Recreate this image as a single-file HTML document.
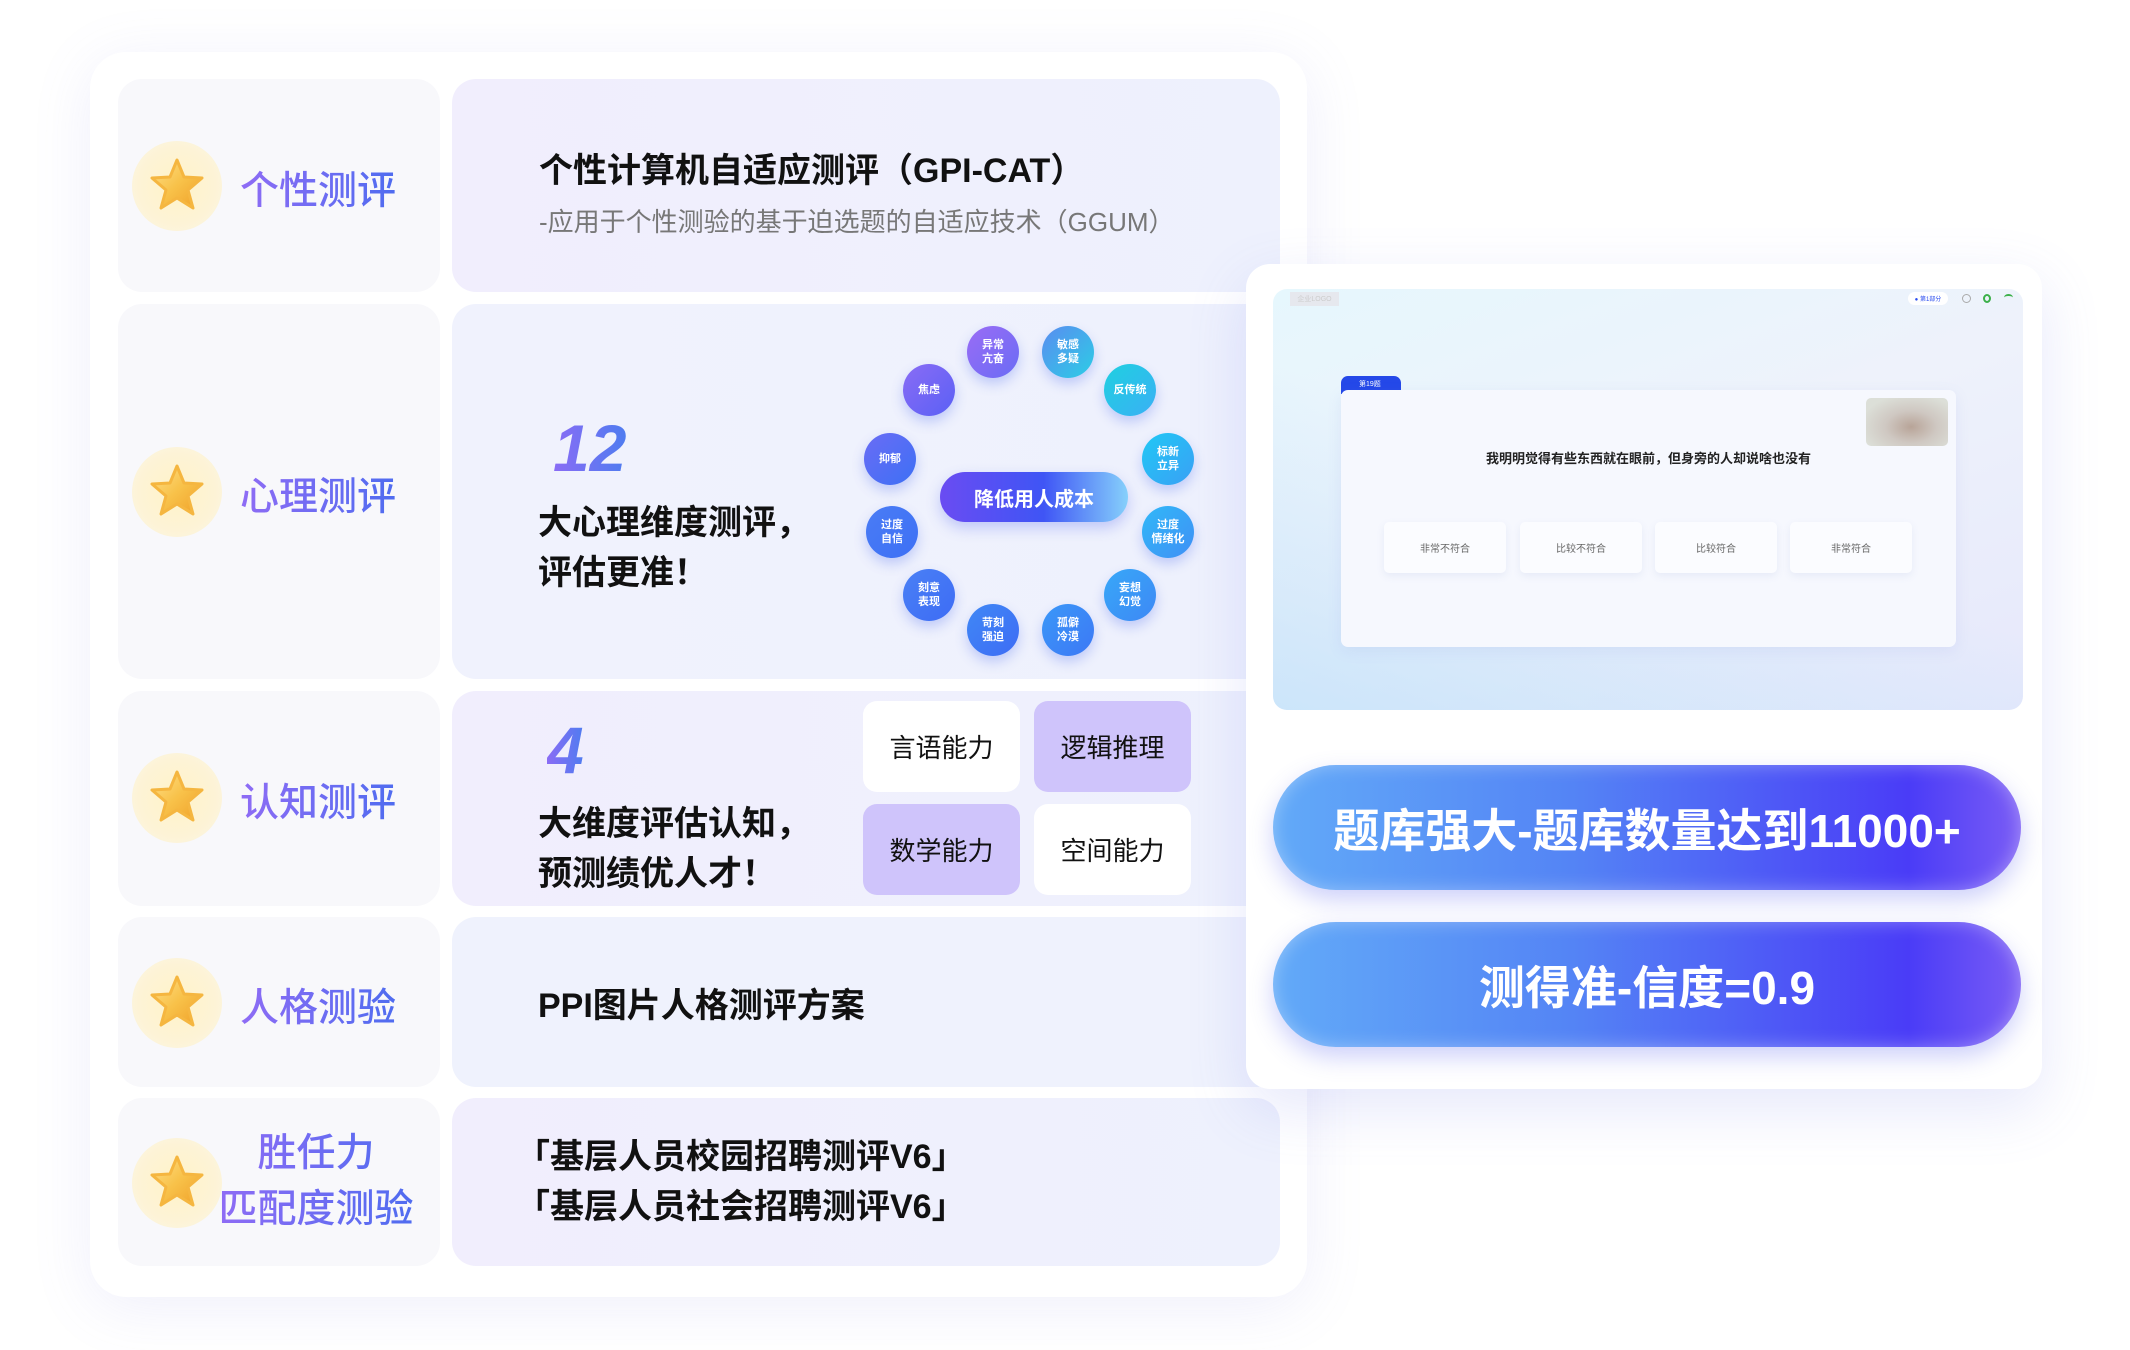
<!DOCTYPE html>
<html><head><meta charset="utf-8"><style>
*{margin:0;padding:0;box-sizing:border-box}
body{width:2130px;height:1350px;background:#fff;position:relative;overflow:hidden;font-family:"Liberation Sans","Noto Sans CJK SC",sans-serif}
.abs{position:absolute}
.card{left:90px;top:52px;width:1217px;height:1245px;background:#fff;border-radius:36px;box-shadow:0 10px 60px rgba(120,120,220,.12)}
.lc{left:118px;width:322px;background:#f8f8fb;border-radius:24px}
.rc{left:452px;width:828px;border-radius:24px;background:linear-gradient(90deg,#f1eefd,#eef1fd)}
.star{width:90px;height:90px;border-radius:50%;background:radial-gradient(circle,#fff3c8 0%,#fdf3d6 60%,#fbf6e8 100%);left:132px}
.lab{font-size:39px;font-weight:500;background:linear-gradient(90deg,#8f6cf5,#4f6cf0);-webkit-background-clip:text;background-clip:text;color:transparent;white-space:nowrap}
.bt{font-size:34px;font-weight:700;color:#111;white-space:nowrap}
.num{font-size:66px;font-weight:700;font-style:italic;color:#6a5cf0;background:linear-gradient(90deg,#8a6cf5,#4f7cf0);-webkit-background-clip:text;background-clip:text;color:transparent}
.c{width:52px;height:52px;border-radius:50%;color:#fff;font-size:11px;font-weight:700;display:flex;align-items:center;justify-content:center;text-align:center;line-height:14px;box-shadow:0 6px 12px rgba(80,110,240,.3)}
.box{width:157px;height:91px;border-radius:14px;display:flex;align-items:center;justify-content:center;font-size:26px;color:#111}
.btn{left:1273px;width:748px;height:125px;border-radius:63px;background:linear-gradient(90deg,#62aaf8 0%,#5484f5 40%,#4a3cf7 85%,#7a5cf5 100%);color:#fff;font-size:46px;font-weight:700;display:flex;align-items:center;justify-content:center;box-shadow:0 10px 24px rgba(90,100,240,.3),inset 0 0 18px rgba(255,255,255,.35)}
.opt{top:522px;width:122px;height:51px;background:#fbfcff;border-radius:5px;box-shadow:0 3px 8px rgba(120,140,200,.12);font-size:10px;color:#666;display:flex;align-items:center;justify-content:center}
</style></head><body>
<div class="abs card"></div>

<div class="abs lc" style="top:79px;height:213px"></div>
<div class="abs lc" style="top:304px;height:375px"></div>
<div class="abs lc" style="top:691px;height:215px"></div>
<div class="abs lc" style="top:917px;height:170px"></div>
<div class="abs lc" style="top:1098px;height:168px"></div>
<div class="abs rc" style="top:79px;height:213px"></div>
<div class="abs rc" style="top:304px;height:375px;background:linear-gradient(90deg,#f0f2fd,#eef1fd)"></div>
<div class="abs rc" style="top:691px;height:215px"></div>
<div class="abs rc" style="top:917px;height:170px;background:#eff2fd"></div>
<div class="abs rc" style="top:1098px;height:168px"></div>

<svg width="0" height="0" style="position:absolute"><defs><linearGradient id="sg" x1="0" y1="0" x2="1" y2="1"><stop offset="0" stop-color="#ffe08a"/><stop offset=".5" stop-color="#f8c24a"/><stop offset="1" stop-color="#f0a028"/></linearGradient></defs></svg>
<div class="abs star" style="top:141px"><svg width="90" height="90" viewBox="0 0 90 90"><path d="M45 19 L52 36 L70 37 L56 49 L61 67 L45 57 L29 67 L34 49 L20 37 L38 36 Z" fill="url(#sg)" stroke="#f5b640" stroke-width="3" stroke-linejoin="round"/></svg></div>
<div class="abs star" style="top:447px"><svg width="90" height="90" viewBox="0 0 90 90"><path d="M45 19 L52 36 L70 37 L56 49 L61 67 L45 57 L29 67 L34 49 L20 37 L38 36 Z" fill="url(#sg)" stroke="#f5b640" stroke-width="3" stroke-linejoin="round"/></svg></div>
<div class="abs star" style="top:753px"><svg width="90" height="90" viewBox="0 0 90 90"><path d="M45 19 L52 36 L70 37 L56 49 L61 67 L45 57 L29 67 L34 49 L20 37 L38 36 Z" fill="url(#sg)" stroke="#f5b640" stroke-width="3" stroke-linejoin="round"/></svg></div>
<div class="abs star" style="top:958px"><svg width="90" height="90" viewBox="0 0 90 90"><path d="M45 19 L52 36 L70 37 L56 49 L61 67 L45 57 L29 67 L34 49 L20 37 L38 36 Z" fill="url(#sg)" stroke="#f5b640" stroke-width="3" stroke-linejoin="round"/></svg></div>
<div class="abs star" style="top:1138px"><svg width="90" height="90" viewBox="0 0 90 90"><path d="M45 19 L52 36 L70 37 L56 49 L61 67 L45 57 L29 67 L34 49 L20 37 L38 36 Z" fill="url(#sg)" stroke="#f5b640" stroke-width="3" stroke-linejoin="round"/></svg></div>

<div class="abs lab" style="left:240px;top:160px">个性测评</div>
<div class="abs lab" style="left:240px;top:466px">心理测评</div>
<div class="abs lab" style="left:240px;top:772px">认知测评</div>
<div class="abs lab" style="left:240px;top:977px">人格测验</div>
<div class="abs lab" style="left:218px;top:1126px;width:196px;text-align:center;line-height:56px">胜任力<br>匹配度测验</div>

<div class="abs bt" style="left:539px;top:143px">个性计算机自适应测评（GPI-CAT）</div>
<div class="abs" style="left:539px;top:202px;font-size:26px;color:#777;white-space:nowrap">-应用于个性测验的基于迫选题的自适应技术（GGUM）</div>

<div class="abs num" style="left:553px;top:410px">12</div>
<div class="abs bt" style="left:538px;top:498px;line-height:50px">大心理维度测评，<br>评估更准！</div>
<div class="abs" style="left:940px;top:472px;width:188px;height:50px;border-radius:25px;background:linear-gradient(90deg,#6a4cf2,#3f55f5 55%,#86d0fb);color:#fff;font-size:20px;font-weight:700;display:flex;align-items:center;justify-content:center;box-shadow:0 6px 14px rgba(80,100,240,.3)">降低用人成本</div>
<div class="abs c" style="left:967px;top:326px;background:linear-gradient(135deg,#9a6cf5,#6a6cf5)">异常<br>亢奋</div>
<div class="abs c" style="left:1042px;top:326px;background:linear-gradient(135deg,#5a8cf0,#2ccde6)">敏感<br>多疑</div>
<div class="abs c" style="left:1104px;top:364px;background:linear-gradient(135deg,#1fd0e0,#3ab0f5)">反传统</div>
<div class="abs c" style="left:1142px;top:433px;background:linear-gradient(135deg,#20c8f5,#3aa0f5)">标新<br>立异</div>
<div class="abs c" style="left:1142px;top:506px;background:linear-gradient(135deg,#30b8f8,#4090f5)">过度<br>情绪化</div>
<div class="abs c" style="left:1104px;top:569px;background:linear-gradient(135deg,#38a8f8,#3d88f5)">妄想<br>幻觉</div>
<div class="abs c" style="left:1042px;top:604px;background:linear-gradient(135deg,#3a98f8,#3d78f5)">孤僻<br>冷漠</div>
<div class="abs c" style="left:967px;top:604px;background:linear-gradient(135deg,#4088f5,#3d6cf5)">苛刻<br>强迫</div>
<div class="abs c" style="left:903px;top:569px;background:linear-gradient(135deg,#4a80f5,#3d6cf5)">刻意<br>表现</div>
<div class="abs c" style="left:866px;top:506px;background:linear-gradient(135deg,#4a7cf5,#3d70f5)">过度<br>自信</div>
<div class="abs c" style="left:864px;top:433px;background:linear-gradient(135deg,#6a6cf5,#3d70f5)">抑郁</div>
<div class="abs c" style="left:903px;top:364px;background:linear-gradient(135deg,#8a6cf5,#5a60f5)">焦虑</div>

<div class="abs num" style="left:547px;top:712px">4</div>
<div class="abs bt" style="left:538px;top:799px;line-height:50px">大维度评估认知，<br>预测绩优人才！</div>
<div class="abs box" style="left:863px;top:701px;background:#fff">言语能力</div>
<div class="abs box" style="left:1034px;top:701px;background:#cfc4fb">逻辑推理</div>
<div class="abs box" style="left:863px;top:804px;background:#cfc4fb">数学能力</div>
<div class="abs box" style="left:1034px;top:804px;background:#fff">空间能力</div>

<div class="abs bt" style="left:538px;top:978px">PPI图片人格测评方案</div>
<div class="abs bt" style="left:516px;top:1132px;line-height:50px">「基层人员校园招聘测评V6」<br>「基层人员社会招聘测评V6」</div>

<div class="abs" style="left:1246px;top:264px;width:796px;height:825px;background:#fff;border-radius:24px;box-shadow:0 20px 60px rgba(100,110,230,.16)"></div>
<div class="abs" style="left:1273px;top:289px;width:750px;height:421px;border-radius:14px;background:linear-gradient(160deg,#e6f7fd 0%,#eef2fb 45%,#e6e8fb 100%)"></div>
<div class="abs" style="left:1273px;top:289px;width:750px;height:421px;border-radius:14px;background:linear-gradient(20deg,rgba(190,225,250,.7) 0%,rgba(255,255,255,0) 50%)"></div>
<div class="abs" style="left:1290px;top:292px;width:49px;height:14px;background:#e6e8ee;color:#ccc;font-size:7px;display:flex;align-items:center;justify-content:center">企业LOGO</div>
<div class="abs" style="left:1908px;top:292px;width:40px;height:13px;border-radius:7px;background:#fff;color:#2a4cf0;font-size:6px;display:flex;align-items:center;justify-content:center">● 第1部分</div>
<div class="abs" style="left:1962px;top:294px;width:9px;height:9px;border:1px solid #aaa;border-radius:50%"></div>
<div class="abs" style="left:1983px;top:294px;width:8px;height:9px;border:2px solid #3cb04a;border-radius:50%"></div>
<div class="abs" style="left:2004px;top:294px;width:9px;height:7px;border-top:2px solid #3cb04a;border-radius:50% 50% 0 0"></div>
<div class="abs" style="left:1341px;top:376px;width:60px;height:18px;border-radius:7px 7px 0 0;background:#2448e8;color:#fff;font-size:7px;padding:3px 0 0 18px">第19题</div>
<div class="abs" style="left:1341px;top:390px;width:615px;height:257px;border-radius:7px;background:#f6f8fe;box-shadow:0 4px 14px rgba(120,140,220,.12)"></div>
<div class="abs" style="left:1866px;top:398px;width:82px;height:48px;border-radius:5px;background:radial-gradient(ellipse at 55% 60%,#b8a498 0%,#cfc8c2 40%,#dcdfd8 80%)"></div>
<div class="abs" style="left:1341px;top:448px;width:615px;text-align:center;font-size:13px;font-weight:700;color:#222">我明明觉得有些东西就在眼前，但身旁的人却说啥也没有</div>
<div class="abs opt" style="left:1384px">非常不符合</div>
<div class="abs opt" style="left:1520px">比较不符合</div>
<div class="abs opt" style="left:1655px">比较符合</div>
<div class="abs opt" style="left:1790px">非常符合</div>

<div class="abs btn" style="top:765px">题库强大-题库数量达到11000+</div>
<div class="abs btn" style="top:922px">测得准-信度=0.9</div>
</body></html>
